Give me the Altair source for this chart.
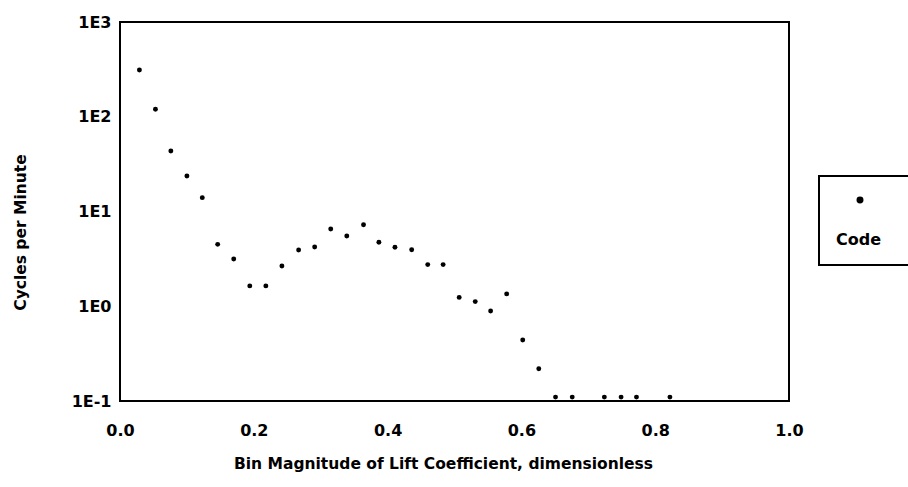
import altair as alt
import pandas as pd

# Lift-coefficient bin magnitudes and their cycle rates
bin_magnitude = [0.029, 0.053, 0.076, 0.100, 0.123, 0.146, 0.170, 0.194, 0.218, 0.242,
                 0.267, 0.291, 0.315, 0.339, 0.364, 0.387, 0.411, 0.436, 0.460, 0.483,
                 0.507, 0.531, 0.554, 0.578, 0.602, 0.626, 0.651, 0.676, 0.724, 0.749,
                 0.772, 0.822]
cycles_per_minute = [311, 120, 43.5, 23.7, 14.0, 4.5, 3.15, 1.64, 1.64, 2.66,
                     3.92, 4.22, 6.54, 5.51, 7.26, 4.73, 4.19, 3.95, 2.75, 2.75,
                     1.24, 1.12, 0.89, 1.35, 0.44, 0.219, 0.11, 0.11, 0.11, 0.11,
                     0.11, 0.11]
series_name = "Code"

x_ticks = [0.0, 0.2, 0.4, 0.6, 0.8, 1.0]
y_ticks = [0.1, 1, 10, 100, 1000]

df = pd.DataFrame({
    "bin": bin_magnitude,
    "cpm": cycles_per_minute,
    "series": [series_name] * len(bin_magnitude),
})

FONT = "DejaVu Sans"

chart = alt.Chart(df).mark_point(filled=True, size=24, opacity=1).encode(
    x=alt.X(
        "bin:Q",
        scale=alt.Scale(domain=[0, 1], nice=False, zero=False),
        axis=alt.Axis(
            values=x_ticks, format=".1f", grid=False, ticks=False, domain=False,
            labelPadding=21, labelFont=FONT, labelFontSize=16, labelFontWeight="bold",
            labelColor="black", labelFlush=False,
            title="Bin Magnitude of Lift Coefficient, dimensionless",
            titleFont=FONT, titleFontSize=15.5, titleFontWeight="bold", titleColor="black",
            titleX=323, titleY=62, titleBaseline="middle", titleAnchor="start", titleAlign="center",
        ),
    ),
    y=alt.Y(
        "cpm:Q",
        scale=alt.Scale(type="log", domain=[0.1, 1000], nice=False),
        axis=alt.Axis(
            values=y_ticks, labelExpr="'1E' + round(log(datum.value) / LN10)",
            grid=False, ticks=False, domain=False,
            labelPadding=9, labelFont=FONT, labelFontSize=16, labelFontWeight="bold",
            labelColor="black", labelFlush=False,
            title="Cycles per Minute",
            titleFont=FONT, titleFontSize=15.5, titleFontWeight="bold", titleColor="black",
            titleAngle=270, titleX=-100, titleY=210, titleBaseline="middle",
            titleAlign="center", titleAnchor="start",
        ),
    ),
    color=alt.Color(
        "series:N",
        scale=alt.Scale(range=["black"]),
        legend=alt.Legend(
            orient="none", legendX=699, legendY=154,
            title=series_name, titleOrient="bottom", titleAnchor="start",
            titleFont=FONT, titleFontSize=16, titleFontWeight="bold", titleColor="black",
            titlePadding=25,
            labelExpr="''", labelFontSize=14, labelOffset=31,
            symbolType="circle", symbolSize=30, symbolOffset=17,
            symbolFillColor="black", symbolStrokeColor="black",
            padding=17, strokeColor="black",
        ),
    ),
).properties(
    width=669,
    height=379,
    autosize=alt.AutoSizeParams(type="none"),
    padding={"left": 120, "top": 22, "right": 119, "bottom": 86},
    background="white",
).configure_view(
    stroke="black", strokeWidth=2,
).configure_legend(
    strokeWidth=2,
)

chart.save("out.html", embed_options={"renderer": "svg", "actions": False})
